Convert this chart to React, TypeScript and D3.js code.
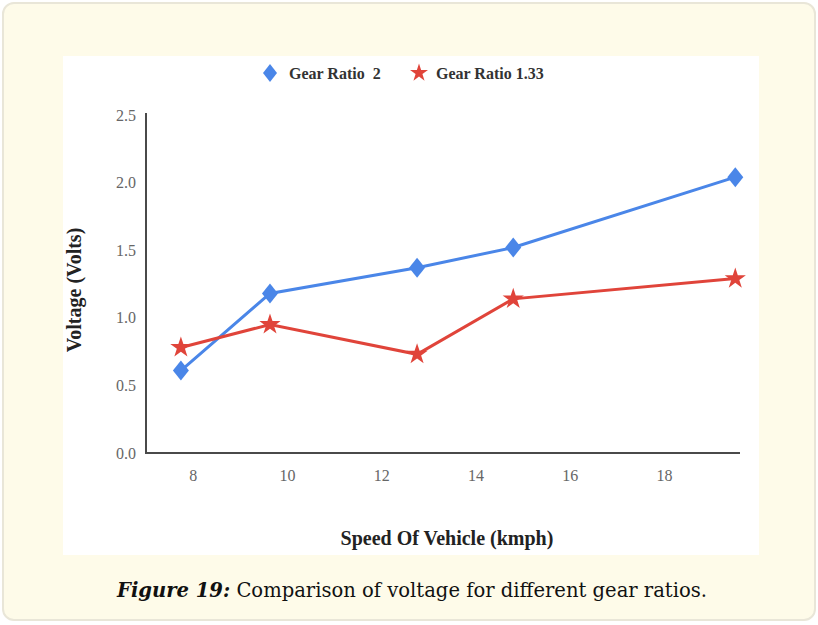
import React from "react";
import * as d3 from "d3";

const speed = [7.74, 9.63, 12.75, 14.79, 19.5];
const gear2 = [0.61, 1.18, 1.37, 1.52, 2.04];
const gear133 = [0.78, 0.95, 0.73, 1.14, 1.29];
const xTicks = [8, 10, 12, 14, 16, 18];
const yTicks = [0, 0.5, 1.0, 1.5, 2.0, 2.5];
const seriesNames = ["Gear Ratio  2", "Gear Ratio 1.33"];

const W = 818;
const H = 625;
const BLUE = "#4a86e8";
const RED = "#e0443a";

export default function App() {
  const x = d3.scaleLinear().domain([7, 19.6]).range([146, 740]);
  const y = d3.scaleLinear().domain([0, 2.5]).range([453, 115]);
  const line = d3
    .line<[number, number]>()
    .x((d) => x(d[0]))
    .y((d) => y(d[1]));
  const blueData = speed.map((s, i) => [s, gear2[i]] as [number, number]);
  const redData = speed.map((s, i) => [s, gear133[i]] as [number, number]);
  const diamond = (cx: number, cy: number, w = 8, h = 10) =>
    `M${cx},${cy - h}L${cx + w},${cy}L${cx},${cy + h}L${cx - w},${cy}Z`;
  const star = d3.symbol().type(d3.symbolStar).size(140)();
  const legendStar = d3.symbol().type(d3.symbolStar).size(100)();

  return (
    <div style={{ position: "fixed", left: 0, top: 0, width: W, height: H, background: "#fff" }}>
      <svg width={W} height={H} style={{ display: "block" }}>
        <rect x={3} y={3} width={812} height={617} rx={11} fill="#fefbe9" stroke="#e9e6d8" strokeWidth={2} />
        <rect x={63} y={56} width={696} height={499} fill="#ffffff" />

        {/* axes */}
        <line x1={146} y1={113} x2={146} y2={453} stroke="#4a4a4a" strokeWidth={2} />
        <line x1={145} y1={453} x2={740} y2={453} stroke="#4a4a4a" strokeWidth={2} />

        {yTicks.map((t) => (
          <text
            key={t}
            x={136}
            y={y(t)}
            textAnchor="end"
            dominantBaseline="central"
            fontFamily="'Liberation Serif', serif"
            fontSize={16}
            fill="#666"
          >
            {t.toFixed(1)}
          </text>
        ))}
        {xTicks.map((t) => (
          <text
            key={t}
            x={x(t)}
            y={475}
            textAnchor="middle"
            dominantBaseline="central"
            fontFamily="'Liberation Serif', serif"
            fontSize={16}
            fill="#666"
          >
            {t}
          </text>
        ))}

        <text
          transform="translate(74,290) rotate(-90)"
          textAnchor="middle"
          dominantBaseline="central"
          fontFamily="'Liberation Serif', serif"
          fontWeight="bold"
          fontSize={20}
          fill="#222"
        >
          Voltage (Volts)
        </text>
        <text
          x={447}
          y={538}
          textAnchor="middle"
          dominantBaseline="central"
          fontFamily="'Liberation Serif', serif"
          fontWeight="bold"
          fontSize={20}
          fill="#222"
        >
          Speed Of Vehicle (kmph)
        </text>

        {/* legend */}
        <path d={diamond(270, 73, 7, 9)} fill={BLUE} />
        <text x={289} y={73} dominantBaseline="central" fontFamily="'Liberation Serif', serif" fontWeight="bold" fontSize={16} fill="#333" style={{ whiteSpace: "pre" }}>
          {seriesNames[0]}
        </text>
        <path d={legendStar} transform="translate(419,73)" fill={RED} />
        <text x={436} y={73} dominantBaseline="central" fontFamily="'Liberation Serif', serif" fontWeight="bold" fontSize={16} fill="#333">
          {seriesNames[1]}
        </text>

        {/* series */}
        <path d={line(blueData) || ""} fill="none" stroke={BLUE} strokeWidth={3} />
        <path d={line(redData) || ""} fill="none" stroke={RED} strokeWidth={3} />
        {blueData.map((d, i) => (
          <path key={"b" + i} d={diamond(x(d[0]), y(d[1]))} fill={BLUE} />
        ))}
        {redData.map((d, i) => (
          <path key={"r" + i} d={star} transform={`translate(${x(d[0])},${y(d[1])})`} fill={RED} />
        ))}

        {/* caption */}
        <text x={117} y={590} dominantBaseline="central" fontFamily="'DejaVu Serif Condensed', 'DejaVu Serif', serif" fontSize={20} fill="#111" textLength={590} lengthAdjust="spacingAndGlyphs">
          <tspan fontWeight="bold" fontStyle="italic">Figure 19:</tspan>
          <tspan> Comparison of voltage for different gear ratios.</tspan>
        </text>
      </svg>
    </div>
  );
}
